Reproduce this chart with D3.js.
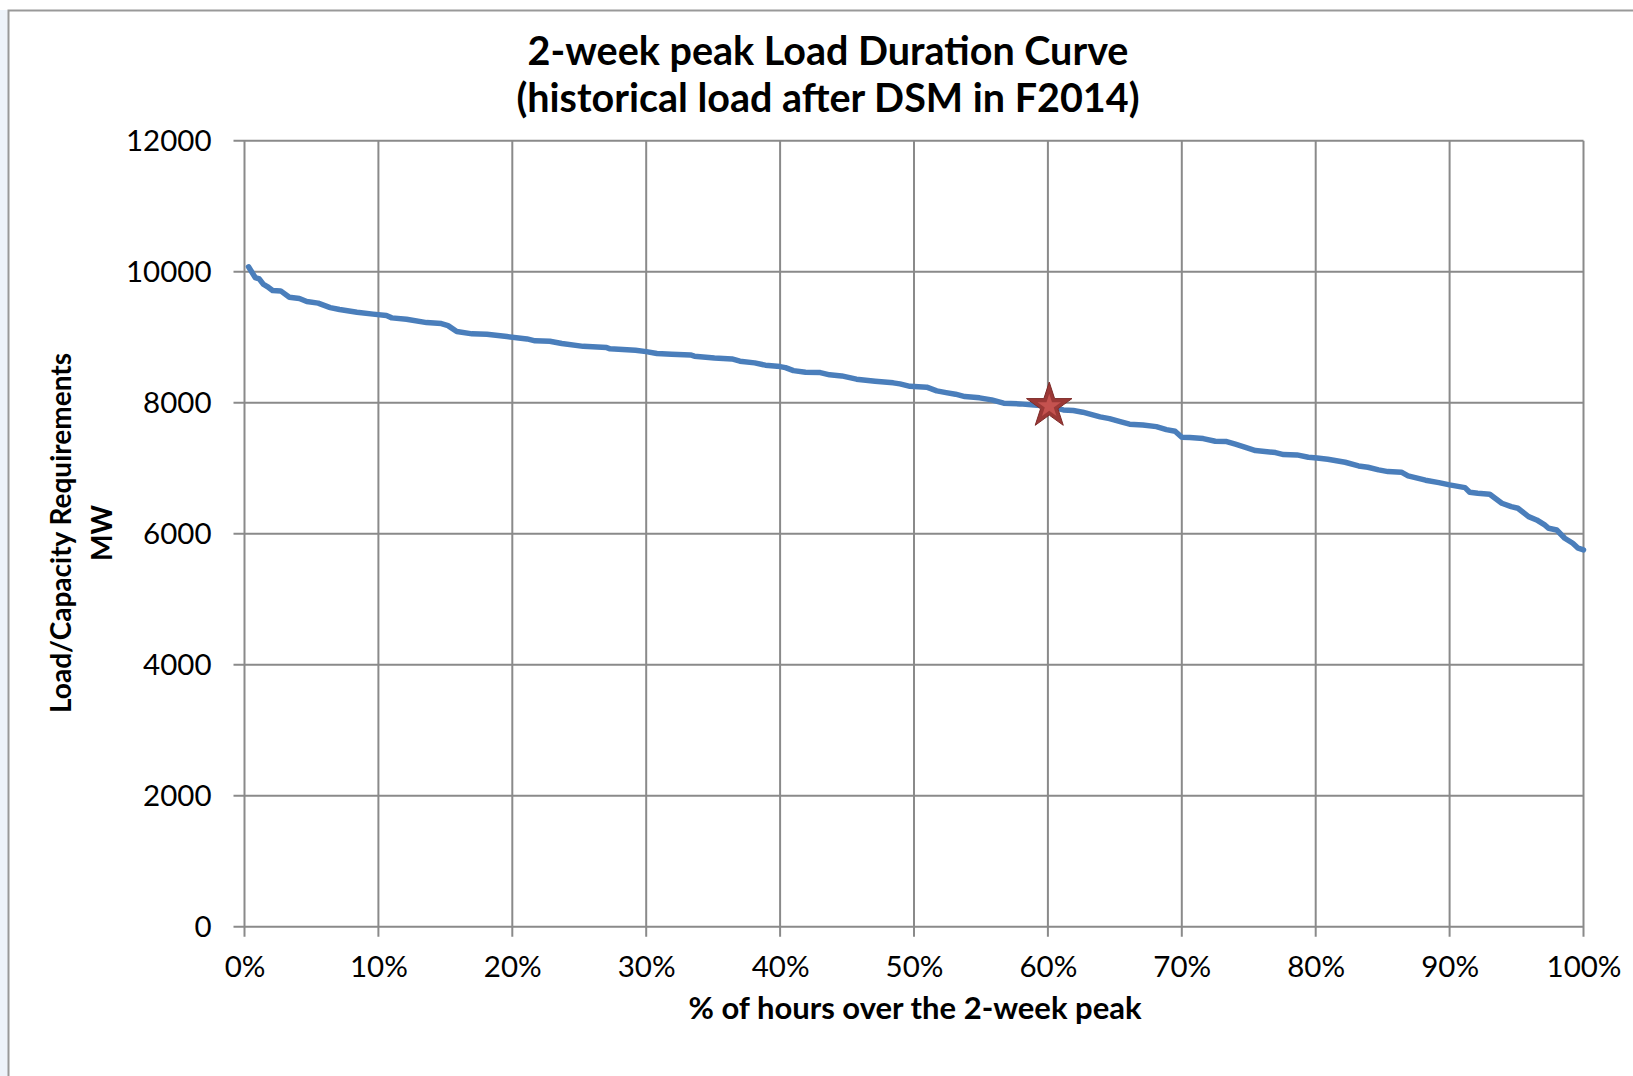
<!DOCTYPE html>
<html>
<head>
<meta charset="utf-8">
<script src="https://cdn.jsdelivr.net/npm/d3@7"></script>
<style>
  html, body { margin: 0; padding: 0; background: #fff; }
  svg { display: block; font-family: Lato, "Open Sans", sans-serif; }
</style>
</head>
<body>
<svg id="chart" width="1633" height="1076"></svg>
<script>
// % of hours (sorted load)
const hoursPct = [
    0.3, 0.8, 1.1, 1.4, 1.7, 2.1, 2.7, 3.35, 4.1, 4.65, 5.5, 6.4, 7.1, 8.4, 9.6,
    10.6, 11.0, 12.1, 13.6, 14.7, 15.2, 15.85, 17.0, 18.1, 19.6, 21.1, 21.7, 22.8, 23.7, 25.3,
    27.05, 27.3, 29.2, 30.0, 30.8, 31.9, 33.3, 33.6, 35.1, 36.4, 37.0, 38.1, 38.9, 40.0, 40.4,
    41.0, 41.9, 43.0, 43.7, 44.6, 45.7, 47.1, 48.45, 48.95, 49.7, 50.95, 51.7, 52.4, 53.1, 53.8,
    54.9, 55.8, 56.7, 57.9, 59.2, 60.0, 61.15, 61.9, 62.6, 63.9, 64.6, 65.4, 66.1, 67.1, 68.1,
    68.85, 69.5, 70.0, 70.6, 71.6, 72.5, 73.35, 74.0, 74.7, 75.5, 77.0, 77.6, 78.6, 79.45, 80.1,
    80.9, 82.2, 83.2, 83.9, 84.7, 85.4, 86.4, 86.9, 88.2, 89.2, 90.0, 91.15, 91.5, 92.1, 93.0,
    93.9, 94.6, 95.1, 95.9, 96.5, 97.1, 97.4, 98.0, 98.6, 99.2, 99.6, 100
];
const loadMW = [
    10075, 9911, 9890, 9809, 9773, 9712, 9707, 9611, 9590, 9544, 9520, 9452, 9422, 9382, 9352,
    9330, 9295, 9275, 9223, 9208, 9177, 9086, 9051, 9046, 9010, 8974, 8944, 8939, 8903, 8860,
    8841, 8822, 8802, 8780, 8750, 8740, 8730, 8710, 8684, 8669, 8634, 8608, 8573, 8551, 8536,
    8490, 8466, 8460, 8425, 8409, 8359, 8328, 8303, 8287, 8250, 8237, 8180, 8154, 8130, 8093,
    8074, 8043, 7992, 7982, 7962, 7951, 7890, 7880, 7855, 7783, 7757, 7711, 7672, 7661, 7635,
    7589, 7565, 7473, 7467, 7452, 7412, 7406, 7366, 7320, 7269, 7238, 7208, 7203, 7168, 7157,
    7137, 7091, 7035, 7015, 6974, 6948, 6939, 6882, 6817, 6780, 6745, 6704, 6633, 6618, 6603,
    6465, 6413, 6389, 6261, 6210, 6134, 6083, 6057, 5931, 5854, 5778, 5752
];

// highlighted point (star marker)
const starPct = [60.1];
const starMW = [7950];

const xTicks = [0, 10, 20, 30, 40, 50, 60, 70, 80, 90, 100];
const yTicks = [0, 2000, 4000, 6000, 8000, 10000, 12000];

const titleLines = ['2-week peak Load Duration Curve', '(historical load after DSM in F2014)'];
const xTitle = '% of hours over the 2-week peak';
const yTitleLines = ['Load/Capacity Requirements', 'MW'];

const plot = { left: 244.5, right: 1583.5, top: 140.7, bottom: 926.7 };
const gridColor = '#8a8a8a';

const svg = d3.select('#chart');

// page background + outer chart frame
svg.append('rect')
    .attr('x', 0).attr('y', 0)
    .attr('width', 1633).attr('height', 1076)
    .attr('fill', '#fff');
svg.append('rect')
    .attr('x', 0).attr('y', 10)
    .attr('width', 8).attr('height', 1066)
    .attr('fill', '#eef3fa');
svg.append('path')
    .attr('d', 'M8.5,1076 V10.5 H1633')
    .attr('fill', 'none')
    .attr('stroke', '#999')
    .attr('stroke-width', 2);

const x = d3.scaleLinear().domain([0, 100]).range([plot.left, plot.right]);
const y = d3.scaleLinear().domain([0, 12000]).range([plot.bottom, plot.top]);

// gridlines
const grid = svg.append('g').attr('class', 'grid');
grid.selectAll('.hgrid')
    .data(yTicks)
    .enter()
    .append('line')
    .attr('class', 'hgrid')
    .attr('x1', plot.left - 11)
    .attr('x2', plot.right)
    .attr('y1', d => y(d))
    .attr('y2', d => y(d))
    .attr('stroke', gridColor)
    .attr('stroke-width', 2);
grid.selectAll('.vgrid')
    .data(xTicks)
    .enter()
    .append('line')
    .attr('class', 'vgrid')
    .attr('x1', d => x(d))
    .attr('x2', d => x(d))
    .attr('y1', plot.top)
    .attr('y2', plot.bottom + 10)
    .attr('stroke', gridColor)
    .attr('stroke-width', 2);

// y tick labels
const yAxis = d3.axisLeft(y).tickValues(yTicks).tickFormat(d3.format('d')).tickSize(0).tickPadding(33);
svg.append('g')
    .attr('transform', `translate(${plot.left},0)`)
    .call(yAxis)
    .call(g => g.select('.domain').remove())
    .selectAll('text')
    .attr('font-family', 'Lato, sans-serif')
    .attr('font-size', 29.5)
    .attr('fill', '#000');

// x tick labels
const xAxis = d3.axisBottom(x).tickValues(xTicks).tickFormat(d => d + '%').tickSize(0).tickPadding(29);
svg.append('g')
    .attr('transform', `translate(0,${plot.bottom})`)
    .call(xAxis)
    .call(g => g.select('.domain').remove())
    .selectAll('text')
    .attr('font-family', 'Lato, sans-serif')
    .attr('font-size', 29.5)
    .attr('fill', '#000');

// load duration curve
const points = hoursPct.map((p, i) => ({ p, mw: loadMW[i] }));
const line = d3.line()
    .x(d => x(d.p))
    .y(d => y(d.mw));
svg.append('path')
    .datum(points)
    .attr('d', line)
    .attr('fill', 'none')
    .attr('stroke', '#4a7ebb')
    .attr('stroke-width', 5.5)
    .attr('stroke-linejoin', 'round')
    .attr('stroke-linecap', 'round');

// star marker
const stars = starPct.map((p, i) => ({ p, mw: starMW[i] }));
const starG = svg.selectAll('.star')
    .data(stars)
    .enter()
    .append('g')
    .attr('class', 'star')
    .attr('transform', d => `translate(${x(d.p)},${y(d.mw)})`);
starG.append('path')
    .attr('d', d3.symbol(d3.symbolStar, 640))
    .attr('fill', '#9b3836')
    .attr('stroke', '#7d2a28')
    .attr('stroke-width', 1);
starG.append('path')
    .attr('d', d3.symbol(d3.symbolStar, 170))
    .attr('fill', '#c4524f');

// titles
svg.append('g')
    .selectAll('text')
    .data(titleLines)
    .enter()
    .append('text')
    .attr('x', 828)
    .attr('y', (d, i) => 65 + i * 47)
    .attr('text-anchor', 'middle')
    .attr('font-weight', 'bold')
    .attr('font-size', 39.5)
    .attr('fill', '#000')
    .text(d => d);

svg.append('text')
    .attr('x', 915)
    .attr('y', 1019)
    .attr('text-anchor', 'middle')
    .attr('font-weight', 'bold')
    .attr('font-size', 31)
    .attr('fill', '#000')
    .text(xTitle);

svg.append('g')
    .attr('transform', 'translate(0,533) rotate(-90)')
    .selectAll('text')
    .data(yTitleLines)
    .enter()
    .append('text')
    .attr('x', 0)
    .attr('y', (d, i) => 71 + i * 41)
    .attr('text-anchor', 'middle')
    .attr('font-weight', 'bold')
    .attr('font-size', 28)
    .attr('fill', '#000')
    .text(d => d);
</script>
</body>
</html>
